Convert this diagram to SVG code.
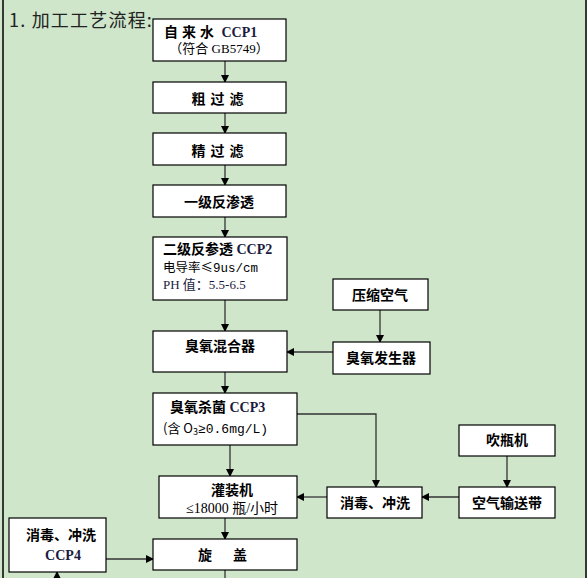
<svg xmlns="http://www.w3.org/2000/svg" width="587" height="578" viewBox="0 0 587 578">
<style>
.box{fill:#fff;stroke:#000;stroke-width:1.2}
.t{font-family:"Noto Sans CJK SC","Liberation Sans",sans-serif;font-size:14px;font-weight:bold;fill:#000;text-anchor:middle}
.s{font-family:"Liberation Serif","Noto Sans CJK SC",serif;font-size:14px;font-weight:bold;fill:#1a1a40}
.r{font-family:"Liberation Serif","Noto Sans CJK SC",serif;font-size:13px;fill:#000}
.c{stroke:#333;stroke-width:1.3;fill:none;marker-end:url(#ah)}
.n{stroke:#333;stroke-width:1.3;fill:none}
</style>
<defs>
<marker id="ah" markerWidth="8" markerHeight="8" refX="7" refY="4" orient="auto" markerUnits="userSpaceOnUse">
<path d="M0,0 L8,4 L0,8 Z" fill="#000"/>
</marker>
</defs>
<rect x="0" y="0" width="587" height="578" fill="#cfe6cb"/>
<line x1="3" y1="0" x2="3" y2="578" stroke="#000" stroke-width="1.5"/>
<line x1="586" y1="0" x2="586" y2="578" stroke="#000" stroke-width="1.5"/>
<text x="9" y="27" font-family="'Noto Sans CJK SC',sans-serif" font-size="18" fill="#222" letter-spacing="1.2">1. 加工工艺流程:</text>

<g id="connectors">
<line class="c" x1="225" y1="61" x2="225" y2="82"/>
<line class="c" x1="225" y1="113" x2="225" y2="133"/>
<line class="c" x1="225" y1="165" x2="225" y2="185"/>
<line class="c" x1="225" y1="217" x2="225" y2="237"/>
<line class="c" x1="225" y1="300" x2="225" y2="331"/>
<line class="c" x1="380" y1="310" x2="380" y2="342"/>
<line class="c" x1="333" y1="352" x2="287" y2="352"/>
<line class="c" x1="225" y1="372" x2="225" y2="393"/>
<line class="c" x1="230" y1="445" x2="230" y2="476"/>
<polyline class="c" points="297,414 376,414 376,487"/>
<line class="c" x1="507" y1="456" x2="507" y2="487"/>
<line class="c" x1="459" y1="497" x2="422" y2="497"/>
<line class="c" x1="327" y1="497" x2="297" y2="497"/>
<line class="c" x1="225" y1="518" x2="225" y2="539"/>
<line class="c" x1="106" y1="559" x2="153" y2="559"/>
<line class="n" x1="225" y1="570" x2="225" y2="578"/>
<line class="c" x1="57" y1="578" x2="57" y2="572"/>
</g>

<g id="n1"><rect class="box" x="153" y="19" width="133" height="42"/>
<text x="164" y="37"><tspan class="t" style="text-anchor:start;letter-spacing:4px">自来水</tspan><tspan class="s"> CCP1</tspan></text>
<text class="r" x="219" y="53" text-anchor="middle" font-size="12">（符合 GB5749）</text></g>

<g id="n2"><rect class="box" x="153" y="82" width="133" height="31"/>
<text class="t" x="220" y="104" style="letter-spacing:5px">粗过滤</text></g>

<g id="n3"><rect class="box" x="153" y="133" width="133" height="32"/>
<text class="t" x="220" y="156" style="letter-spacing:5px">精过滤</text></g>

<g id="n4"><rect class="box" x="153" y="185" width="133" height="32"/>
<text class="t" x="219" y="207">一级反渗透</text></g>

<g id="n5"><rect class="box" x="153" y="237" width="134" height="63"/>
<text x="163" y="254"><tspan class="t" style="text-anchor:start">二级反参透</tspan><tspan class="s"> CCP2</tspan></text>
<text x="163" y="272" font-family="'Noto Sans CJK SC',sans-serif" font-size="12.5">电导率≤<tspan font-family="'Liberation Mono',monospace">9us/cm</tspan></text>
<text class="r" x="163" y="289" style="fill:#1a1a40">PH 值：5.5-6.5</text></g>

<g id="n6"><rect class="box" x="333" y="279" width="95" height="31"/>
<text class="t" x="380" y="300">压缩空气</text></g>

<g id="n7"><rect class="box" x="153" y="331" width="134" height="41"/>
<text class="t" x="220" y="351">臭氧混合器</text></g>

<g id="n8"><rect class="box" x="333" y="342" width="97" height="32"/>
<text class="t" x="381" y="363">臭氧发生器</text></g>

<g id="n9"><rect class="box" x="153" y="393" width="144" height="52"/>
<text x="170" y="412"><tspan class="t" style="text-anchor:start">臭氧杀菌</tspan><tspan class="s"> CCP3</tspan></text>
<text x="163" y="433" font-family="'Noto Sans CJK SC',sans-serif" font-size="13">(含 O<tspan font-size="9" dy="2">3</tspan><tspan dy="-2" font-family="'Liberation Mono',monospace">≥0.6mg/L)</tspan></text></g>

<g id="n10"><rect class="box" x="159" y="476" width="138" height="42"/>
<text class="t" x="232" y="495">灌装机</text>
<text x="232" y="513" text-anchor="middle" font-family="'Liberation Serif','Noto Sans CJK SC',serif" font-size="14">≤18000 瓶/小时</text></g>

<g id="n11"><rect class="box" x="327" y="487" width="95" height="31"/>
<text class="t" x="375" y="508">消毒、冲洗</text></g>

<g id="n12"><rect class="box" x="459" y="425" width="96" height="31"/>
<text class="t" x="507" y="445">吹瓶机</text></g>

<g id="n13"><rect class="box" x="459" y="487" width="96" height="31"/>
<text class="t" x="507" y="508">空气输送带</text></g>

<g id="n14"><rect class="box" x="9" y="518" width="97" height="54"/>
<text class="t" x="61" y="540">消毒、冲洗</text>
<text class="s" x="63" y="560" text-anchor="middle">CCP4</text></g>

<g id="n15"><rect class="box" x="153" y="539" width="144" height="31"/>
<text class="t" y="560"><tspan x="205">旋</tspan><tspan x="240">盖</tspan></text></g>
</svg>
